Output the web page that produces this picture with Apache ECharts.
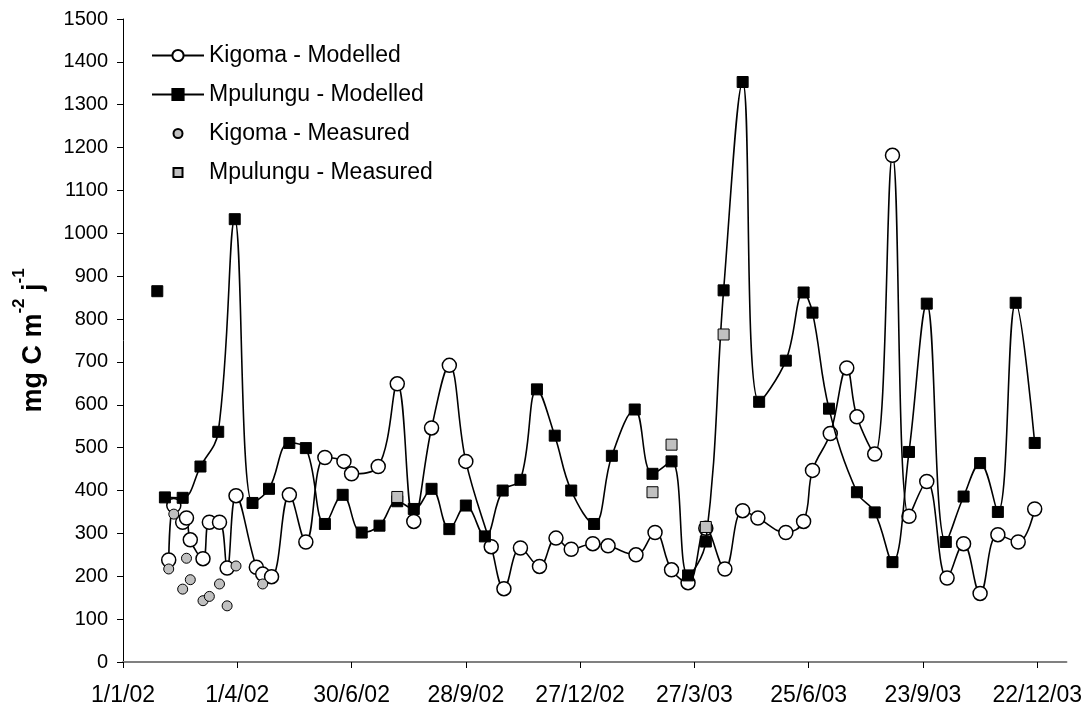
<!DOCTYPE html>
<html><head><meta charset="utf-8">
<script src="https://cdn.jsdelivr.net/npm/echarts@6/dist/echarts.min.js"></script>
<style>html,body{margin:0;padding:0;background:#fff}#c{width:1085px;height:710px}</style>
</head><body><div id="c"></div>
<script>
// ---- data ----
const kigomaModelledDates = ['2002-02-06','2002-02-10','2002-02-17','2002-02-20','2002-02-23','2002-03-05','2002-03-10','2002-03-18','2002-03-24','2002-03-31',
  '2002-04-16','2002-04-21','2002-04-28','2002-05-12','2002-05-25','2002-06-09','2002-06-24','2002-06-30','2002-07-21','2002-08-05',
  '2002-08-18','2002-09-01','2002-09-15','2002-09-28','2002-10-18','2002-10-28','2002-11-10','2002-11-25','2002-12-08','2002-12-20',
  '2003-01-06','2003-01-18','2003-02-09','2003-02-24','2003-03-09','2003-03-22','2003-04-05','2003-04-20','2003-05-04','2003-05-16',
  '2003-06-07','2003-06-21','2003-06-28','2003-07-12','2003-07-25','2003-08-02','2003-08-16','2003-08-30','2003-09-12','2003-09-26',
  '2003-10-12','2003-10-25','2003-11-07','2003-11-21','2003-12-07','2003-12-20'];
const kigomaModelledValues = [238,365,326,336,285,241,326,326,219,388,
  221,205,199,390,280,477,468,439,456,649,
  328,546,692,468,269,171,266,223,289,263,
  276,271,250,302,215,185,312,217,353,336,
  302,328,447,533,686,572,485,1182,340,421,
  196,276,160,297,280,357];

const mpulunguModelledDates = ['2002-01-28','2002-02-03','2002-02-17','2002-03-03','2002-03-17','2002-03-30','2002-04-13','2002-04-26','2002-05-12','2002-05-25',
  '2002-06-09','2002-06-23','2002-07-08','2002-07-22','2002-08-05','2002-08-18','2002-09-01','2002-09-15','2002-09-28','2002-10-13',
  '2002-10-27','2002-11-10','2002-11-23','2002-12-07','2002-12-20','2003-01-07','2003-01-21','2003-02-08','2003-02-22','2003-03-09',
  '2003-03-22','2003-04-05','2003-04-19','2003-05-04','2003-05-17','2003-06-07','2003-06-21','2003-06-28','2003-07-11','2003-08-02',
  '2003-08-16','2003-08-30','2003-09-12','2003-09-26','2003-10-11','2003-10-25','2003-11-07','2003-11-21','2003-12-05','2003-12-20'];
const mpulunguModelledValues = [865,384,383,456,537,1033,371,404,511,499,
  322,390,302,318,375,357,404,310,365,293,
  400,425,636,528,400,322,481,589,439,468,
  202,281,867,1353,607,703,862,815,591,396,
  349,233,490,836,280,386,464,350,838,511];
const mpulunguGapAfterIndex = 0; // line is broken after the first point

const kigomaMeasuredDates = ['2002-02-06','2002-02-10','2002-02-17','2002-02-20','2002-02-23','2002-03-05','2002-03-10','2002-03-18','2002-03-24','2002-03-31','2002-04-21'];
const kigomaMeasuredValues = [217,345,170,242,192,143,153,182,131,224,182];

const mpulunguMeasuredDates = ['2002-08-05','2003-02-22','2003-03-09','2003-04-05','2003-04-19'];
const mpulunguMeasuredValues = [385,396,507,315,764];

const xTickDays = [0,90,180,270,360,450,540,630,720];

// ---- helpers ----
const ORIGIN = Date.UTC(2002,0,1);
function dayOf(s){ const p=s.split('-'); return (Date.UTC(+p[0],+p[1]-1,+p[2])-ORIGIN)/864e5; }
function fmtDay(d){ const dt=new Date(ORIGIN+d*864e5); return dt.getUTCDate()+'/'+(dt.getUTCMonth()+1)+'/'+String(dt.getUTCFullYear()).slice(2); }
function pairs(ds,vs){ return ds.map((d,i)=>[dayOf(d),vs[i]]); }

const mpData = pairs(mpulunguModelledDates, mpulunguModelledValues);
mpData.splice(mpulunguGapAfterIndex+1, 0, [mpData[mpulunguGapAfterIndex][0]+1, '-']);

// legend icons with an empty margin so they draw smaller than the legend box
const smallSquareIcon = 'path://M0,0M14,14M2.5,2.5L11.5,2.5L11.5,11.5L2.5,11.5Z';
const smallCircleIcon = 'path://M0,0M14,14M11.5,7A4.5,4.5,0,1,1,2.5,7A4.5,4.5,0,1,1,11.5,7Z';

const FONT = 'Liberation Sans, Arial, sans-serif';
const chart = echarts.init(document.getElementById('c'), null, {renderer:'canvas'});
chart.setOption({
  animation:false,
  backgroundColor:'#ffffff',
  grid:{left:123, right:16, top:19, bottom:48, containLabel:false},
  legend:{
    orient:'vertical', left:151, top:44, padding:0, itemWidth:52, itemHeight:14, itemGap:16,
    textStyle:{fontFamily:FONT, fontSize:23, color:'#000'},
    data:[
      {name:'Kigoma - Modelled'},
      {name:'Mpulungu - Modelled'},
      {name:'Kigoma - Measured', icon:smallCircleIcon},
      {name:'Mpulungu - Measured', icon:smallSquareIcon}
    ]
  },
  xAxis:{
    type:'value', min:0, max:743,
    axisLine:{show:true, onZero:false, lineStyle:{color:'#808080', width:2}},
    axisTick:{show:true, customValues:xTickDays, length:6, lineStyle:{color:'#000', width:1}},
    axisLabel:{customValues:xTickDays, formatter:v=>fmtDay(v), fontFamily:FONT, fontSize:23, color:'#000', margin:22},
    splitLine:{show:false}
  },
  yAxis:{
    type:'value', min:0, max:1500, interval:100,
    axisLine:{show:true, lineStyle:{color:'#000', width:1}},
    axisTick:{show:true, length:6, lineStyle:{color:'#000'}},
    axisLabel:{formatter:v=>String(v), fontFamily:FONT, fontSize:20, color:'#000', margin:15},
    splitLine:{show:false},
    name:'{b|mg C m}{s|-2}{b| j}{s|-1}',
    nameLocation:'middle', nameRotate:90, nameGap:76,
    nameTextStyle:{
      rich:{
        b:{fontFamily:FONT, fontSize:27, fontWeight:'bold', color:'#000', lineHeight:36, verticalAlign:'bottom'},
        s:{fontFamily:FONT, fontSize:17, fontWeight:'bold', color:'#000', lineHeight:36, verticalAlign:'top'}
      }
    }
  },
  series:[
    {
      name:'Kigoma - Modelled', type:'line', smooth:0.4, z:2,
      data:pairs(kigomaModelledDates,kigomaModelledValues),
      symbol:'circle', symbolSize:14, showAllSymbol:true,
      lineStyle:{color:'#000', width:1.6},
      itemStyle:{color:'#fff', borderColor:'#000', borderWidth:1.5}
    },
    {
      name:'Mpulungu - Modelled', type:'line', smooth:0.4, connectNulls:false, z:3,
      data:mpData,
      symbol:'rect', symbolSize:11, showAllSymbol:true,
      lineStyle:{color:'#000', width:1.6},
      itemStyle:{color:'#000', borderColor:'#000', borderWidth:1}
    },
    {
      name:'Kigoma - Measured', type:'scatter', z:4,
      data:pairs(kigomaMeasuredDates,kigomaMeasuredValues),
      symbol:'circle', symbolSize:10,
      itemStyle:{color:'#c0c0c0', borderColor:'#000', borderWidth:1, opacity:1}
    },
    {
      name:'Mpulungu - Measured', type:'scatter', z:4,
      data:pairs(mpulunguMeasuredDates,mpulunguMeasuredValues),
      symbol:'rect', symbolSize:11,
      itemStyle:{color:'#c0c0c0', borderColor:'#000', borderWidth:1, opacity:1}
    }
  ]
});
</script></body></html>
